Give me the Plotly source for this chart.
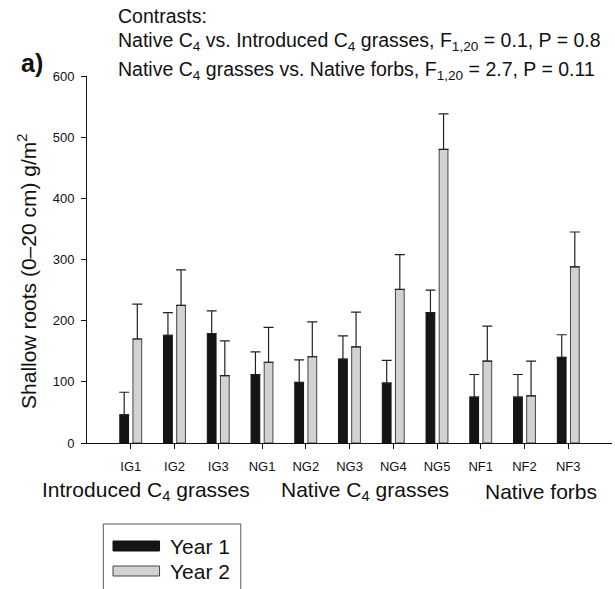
import plotly.graph_objects as go

categories = ["IG1", "IG2", "IG3", "NG1", "NG2", "NG3", "NG4", "NG5", "NF1", "NF2", "NF3"]
year1 = [46, 176, 179, 112, 99, 137, 98, 213, 75, 75, 140]
year1_se = [37, 37, 37, 37, 37, 38, 37, 37, 37, 37, 37]
year2 = [170, 225, 110, 132, 141, 157, 251, 480, 134, 77, 288]
year2_se = [57, 58, 57, 57, 57, 57, 57, 58, 57, 57, 57]
series_names = ["Year 1", "Year 2"]
group_labels = ["Introduced C<sub>4</sub> grasses", "Native C<sub>4</sub> grasses", "Native forbs"]
group_pos = [0.34, 5.35, 9.38]
contrast_lines = [
    "Contrasts:",
    "Native C<sub>4</sub> vs. Introduced C<sub>4</sub> grasses, F<sub>1,20</sub> = 0.1, P = 0.8",
    "Native C<sub>4</sub> grasses vs. Native forbs, F<sub>1,20</sub> = 2.7, P = 0.11",
]

FONT = "Liberation Sans, Arial, Helvetica, sans-serif"
W, H = 615, 589
L, R, T, B = 87, 3.3, 76, 146
pw = W - L - R
ph = H - T - B


def px(x):
    return (x - L) / pw


def py(y):
    return (H - B - y) / ph


fig = go.Figure()
fig.add_trace(go.Bar(
    x=categories, y=year1, name=series_names[0],
    marker=dict(color="#151515", line=dict(color="#111111", width=1)),
    error_y=dict(type="data", array=year1_se, arrayminus=[0] * len(year1_se),
                 symmetric=False, color="#222222", thickness=1.2, width=5),
))
fig.add_trace(go.Bar(
    x=categories, y=year2, name=series_names[1],
    marker=dict(color="#d2d2d2", line=dict(color="#444444", width=1)),
    error_y=dict(type="data", array=year2_se, arrayminus=[0] * len(year2_se),
                 symmetric=False, color="#222222", thickness=1.2, width=5),
))

annotations = []
ys = [16, 42, 71]
for line, yy in zip(contrast_lines, ys):
    annotations.append(dict(text=line, xref="paper", yref="paper", x=px(116), y=py(yy),
                            xanchor="left", yanchor="middle", showarrow=False,
                            font=dict(family=FONT, size=19.5, color="#111111")))
annotations.append(dict(text="<b>a)</b>", xref="paper", yref="paper", x=px(32), y=py(63),
                        xanchor="center", yanchor="middle", showarrow=False,
                        font=dict(family=FONT, size=25, color="#111111")))
annotations.append(dict(text="Shallow roots (0\u201320 cm) g/m<sup>2</sup>", xref="paper", yref="paper",
                        x=px(27), y=py(271), textangle=-90, xanchor="center", yanchor="middle",
                        showarrow=False, font=dict(family=FONT, size=21, color="#111111")))
for lab, gx in zip(group_labels, group_pos):
    annotations.append(dict(text=lab, xref="x", yref="paper", x=gx, y=py(491),
                            xanchor="center", yanchor="middle", showarrow=False,
                            font=dict(family=FONT, size=21, color="#111111")))
annotations.append(dict(text=series_names[0], xref="paper", yref="paper", x=px(168), y=py(546),
                        xanchor="left", yanchor="middle", showarrow=False,
                        font=dict(family=FONT, size=21, color="#111111")))
annotations.append(dict(text=series_names[1], xref="paper", yref="paper", x=px(168), y=py(571),
                        xanchor="left", yanchor="middle", showarrow=False,
                        font=dict(family=FONT, size=21, color="#111111")))

shapes = [
    dict(type="rect", xref="paper", yref="paper", x0=px(103.3), x1=px(240.7), y0=py(524), y1=py(600),
         line=dict(color="#555555", width=1), fillcolor="rgba(0,0,0,0)"),
    dict(type="rect", xref="paper", yref="paper", x0=px(113), x1=px(159.5), y0=py(541), y1=py(551),
         line=dict(color="#111111", width=1), fillcolor="#151515"),
    dict(type="rect", xref="paper", yref="paper", x0=px(113), x1=px(159.5), y0=py(566), y1=py(576),
         line=dict(color="#444444", width=1), fillcolor="#d2d2d2"),
]

fig.update_layout(
    width=W, height=H,
    margin=dict(l=L, r=R, t=T, b=B, pad=0),
    paper_bgcolor="white", plot_bgcolor="white",
    barmode="group", bargap=0.4, bargroupgap=1 / 3,
    showlegend=False,
    annotations=annotations, shapes=shapes,
    font=dict(family=FONT, color="#111111"),
)
fig.update_xaxes(
    type="category", range=[-1, 11], showline=True, linecolor="#111111", linewidth=1,
    ticks="outside", ticklen=5, tickcolor="#111111", showgrid=False, zeroline=False,
    tickfont=dict(family=FONT, size=13, color="#111111"), ticklabelstandoff=6,
)
fig.update_yaxes(
    range=[0, 600], tickvals=[0, 100, 200, 300, 400, 500, 600], showline=True,
    linecolor="#111111", linewidth=1, ticks="outside", ticklen=5, tickcolor="#111111",
    showgrid=False, zeroline=False, tickfont=dict(family=FONT, size=13, color="#111111"),
    ticklabelstandoff=4,
)

fig.write_html("out.html", config={"displayModeBar": False},
               post_script="document.body.style.margin='0';")
